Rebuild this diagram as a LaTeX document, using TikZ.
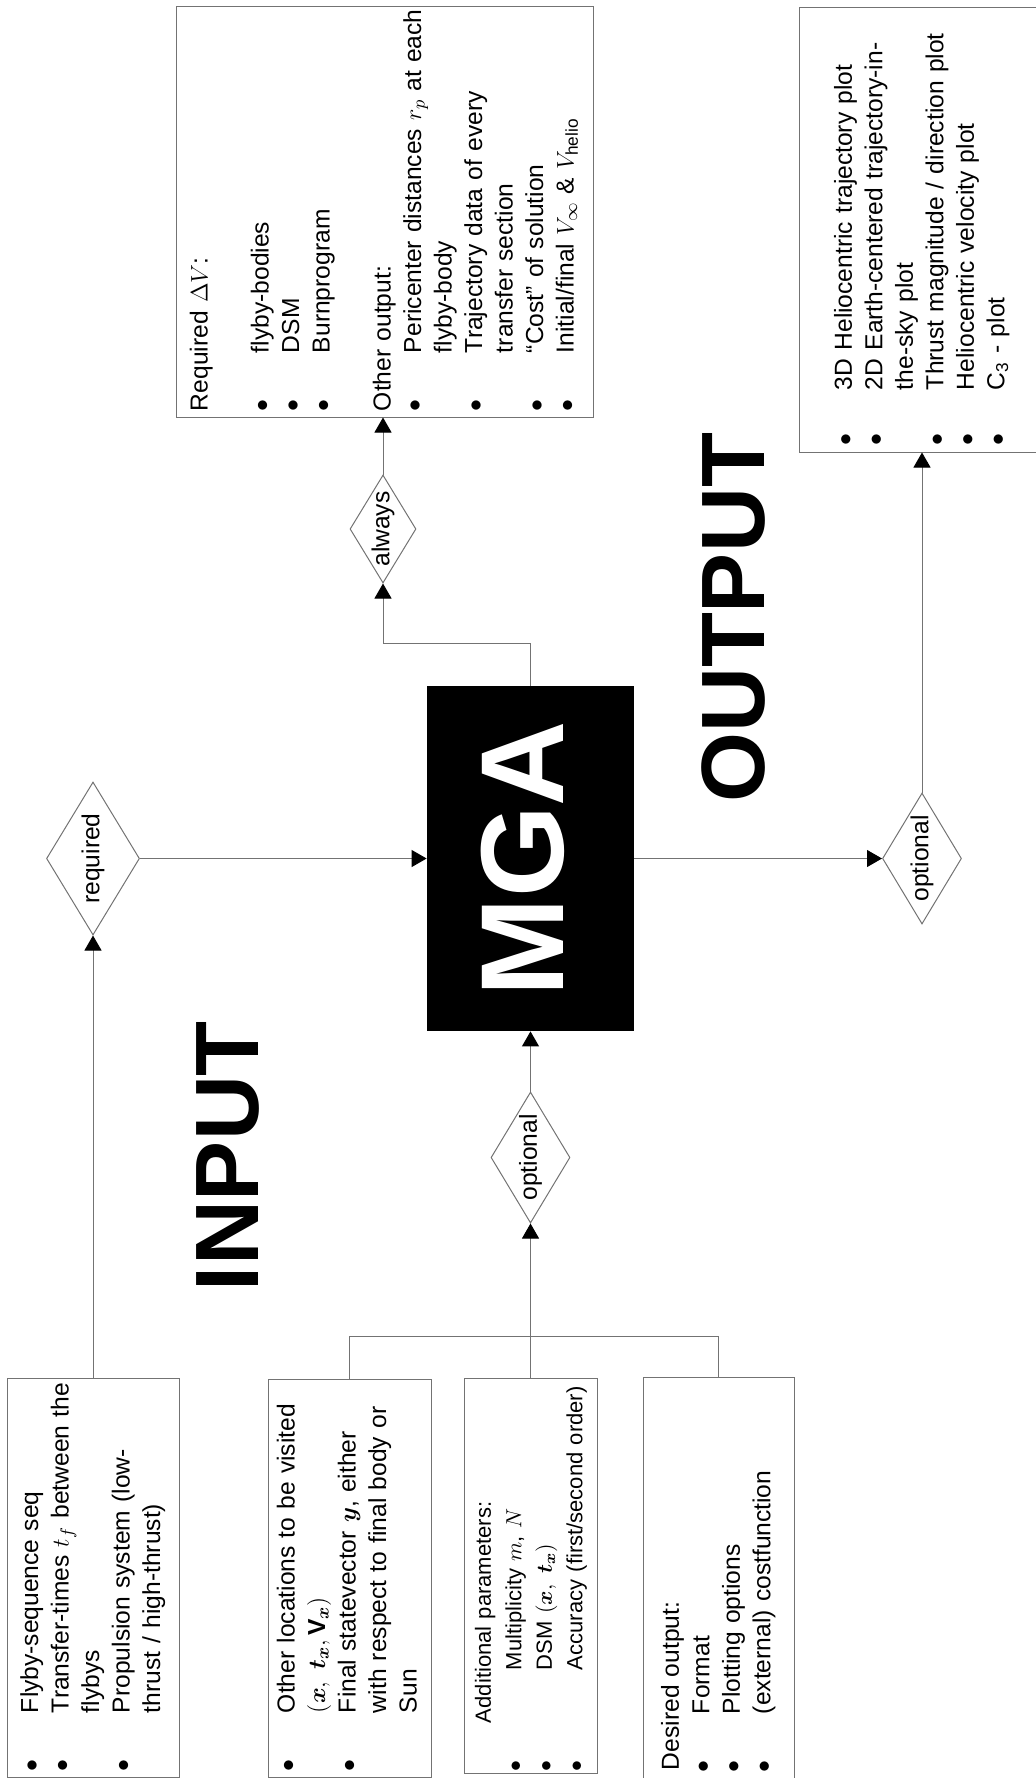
\documentclass[tikz,border=0pt]{standalone}
\usepackage{amsmath,bm}
\usepackage{fontspec}
\setmainfont{Liberation Sans}
\usetikzlibrary{arrows.meta,shapes.geometric}
\newcommand{\itm}{$\bullet$}

\begin{document}
\begin{tikzpicture}[x=0.5pt,y=-0.5pt,
  font=\fontsize{12.3pt}{15.25pt}\selectfont,
  conn/.style={draw=black!55,line width=0.5pt},
  arr/.style={conn,-{Triangle[length=7.5pt,width=8.5pt,color=black]}},
  listbox/.style={draw=black!55,line width=0.5pt,rotate=90,inner sep=0pt,align=left},
  gate/.style={diamond,aspect=1.65,draw=black!55,line width=0.5pt,rotate=90,inner sep=0pt},
  bigword/.style={rotate=90,font=\fontsize{45pt}{46pt}\selectfont\bfseries}]
\useasboundingbox (0,0) rectangle (1036,1778);
% coordinates are pixels of the (landscape, turned) page, y grows downwards

% --- input side
\node[listbox,text width=199.5pt,minimum height=86pt] (seqbox) at (93,1577.5) {%
\begin{tabular}{@{\hspace{3pt}}p{29pt}@{}l@{}}
\itm & Flyby-sequence $\mathrm{seq}$\\
\itm & Transfer-times $t_f$ between the\\
 & flybys\\
\itm & Propulsion system (low-\\
 & thrust / high-thrust)
\end{tabular}};
\node[listbox,text width=199pt,minimum height=81.5pt] (locbox) at (349.5,1578) {%
\begin{tabular}{@{\hspace{3pt}}p{29pt}@{}l@{}}
\itm & Other locations to be visited\\
 & $(\bm{x},\ \bm{t}_{\bm{x}}, \mathbf{V}_{\bm{x}})$\\
\itm & Final statevector $\bm{y}$, either\\
 & with respect to final body or\\
 & Sun
\end{tabular}};
\node[listbox,text width=197.5pt,minimum height=66.5pt,
  font=\fontsize{11pt}{15.25pt}\selectfont] (parbox) at (530.5,1575.5) {%
\begin{tabular}{@{\hspace{1pt}}p{50.5pt}@{}l@{}}
\multicolumn{2}{@{\hspace{25pt}}l@{}}{Additional parameters:}\\
\itm & Multiplicity $m$, $N$\\
\itm & DSM $(\bm{x},\ \bm{t}_{\bm{x}})$\\
\itm & Accuracy (first/second order)
\end{tabular}};
\node[listbox,text width=202pt,minimum height=75.5pt] (outbox) at (718.5,1579) {%
\begin{tabular}{@{\hspace{4.5pt}}p{29pt}@{}l@{}}
\multicolumn{2}{@{\hspace{5.5pt}}l@{}}{Desired output:}\\
\itm & Format\\
\itm & Plotting options\\
\itm & (external) costfunction
\end{tabular}};

\node[gate,minimum width=76.5pt,minimum height=46.5pt] (req) at (93,858.5) {required};
\node[gate,minimum width=65.5pt,minimum height=39.5pt] (inopt) at (530.5,1157.5) {optional};
\node[bigword] (inword) at (228,1156) {INPUT};

% --- the tool
\node[rotate=90,fill=black,text=white,inner sep=0pt,minimum width=172.5pt,minimum height=103.5pt,
  text depth=8pt,font=\fontsize{59pt}{60pt}\selectfont\bfseries] (mga) at (530.5,858.5) {MGA};

% --- output side
\node[gate,minimum width=54pt,minimum height=33pt,inner sep=-1pt] (always) at (383,529) {always};
\node[listbox,text width=205.5pt,minimum height=208.5pt] (res1) at (384.5,211.5) {%
\begin{tabular}{@{\hspace{3pt}}p{29pt}@{}l@{}}
\multicolumn{2}{@{\hspace{3pt}}l@{}}{Required $\Delta V$:}\\
\\
\itm & flyby-bodies\\
\itm & DSM\\
\itm & Burnprogram\\
\\
\multicolumn{2}{@{\hspace{3pt}}l@{}}{Other output:}\\
\itm & Pericenter distances $r_p$ at each\\
 & flyby-body\\
\itm & Trajectory data of every\\
 & transfer section\\
\itm & ``Cost'' of solution\\
\itm & Initial/final $V_\infty$ \& $V_{\mathrm{helio}}$
\end{tabular}};
\node[gate,minimum width=65.5pt,minimum height=39.5pt] (outopt) at (922,858.5) {optional};
\node[listbox,text width=222.5pt,minimum height=123pt] (res2) at (922,229.5) {%
\begin{tabular}{@{\hspace{3.5pt}}p{27.5pt}@{}l@{}}
\itm & 3D Heliocentric trajectory plot\\
\itm & 2D Earth-centered trajectory-in-\\
 & the-sky plot\\
\itm & Thrust magnitude / direction plot\\
\itm & Heliocentric velocity plot\\
\itm & C\textsubscript{3} - plot
\end{tabular}};
\node[bigword] (outword) at (734,618) {OUTPUT};

% --- connectors
\draw[arr] (seqbox.east) -- (req.west);
\draw[arr] (req.south) -- (mga.north);
\draw[conn] (locbox.east) -- ++(0,-42) -| (outbox.east);
\draw[arr] (parbox.east) -- (inopt.west);
\draw[arr] (inopt.east) -- (mga.west);
\draw[arr] (mga.east) -- ++(0,-42) -| (always.west);
\draw[arr] (always.east) -- (always.east |- res1.west);
\draw[arr] (mga.south) -- (outopt.north);
\draw[arr] (outopt.east) -- (res2.west);
\end{tikzpicture}
\end{document}
